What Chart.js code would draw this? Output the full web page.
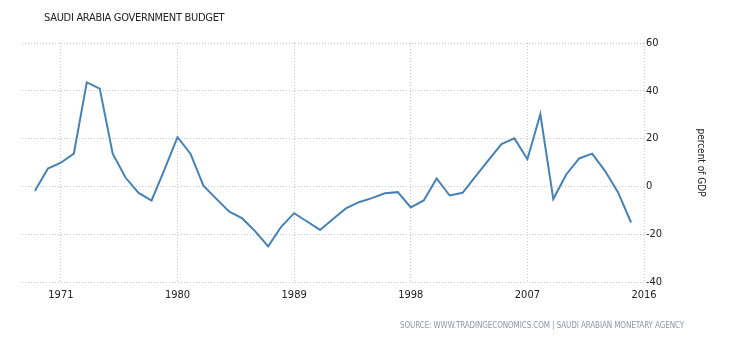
<!DOCTYPE html>
<html>
<head>
<meta charset="utf-8">
<script src="https://cdn.jsdelivr.net/npm/chart.js@4.4.0/dist/chart.umd.min.js"></script>
<style>
  body { margin: 0; background: #fff; }
  #wrap { position: relative; width: 730px; height: 340px; }
  #title {
    position: absolute; left: 44px; top: 11px;
    font: 11px 'DejaVu Sans Condensed', 'DejaVu Sans', sans-serif;
    color: #222; letter-spacing: -0.3px; white-space: nowrap;
  }
  #source {
    position: absolute; left: 400px; top: 321px;
    font: 8px 'DejaVu Sans Condensed', 'DejaVu Sans', sans-serif;
    color: #8a97ab; letter-spacing: -0.1px; white-space: nowrap;
  }
</style>
</head>
<body>
<div id="wrap">
  <canvas id="canvas" width="730" height="340"></canvas>
  <div id="title">SAUDI ARABIA GOVERNMENT BUDGET</div>
  <div id="source">SOURCE: WWW.TRADINGECONOMICS.COM | SAUDI ARABIAN MONETARY AGENCY</div>
</div>
<script>
// budget balance, percent of GDP
const years = [1969, 1970, 1971, 1972, 1973, 1974, 1975, 1976, 1977, 1978,
  1979, 1980, 1981, 1982, 1983, 1984, 1985, 1986, 1987, 1988,
  1989, 1990, 1991, 1992, 1993, 1994, 1995, 1996, 1997, 1998,
  1999, 2000, 2001, 2002, 2003, 2004, 2005, 2006, 2007, 2008,
  2009, 2010, 2011, 2012, 2013, 2014, 2015];
const budget = [-1.8, 7.5, 9.9, 13.7, 43.5, 40.9, 13.7, 3.6, -2.7, -5.9,
  7.1, 20.6, 13.7, 0.3, -5.2, -10.6, -13.4, -18.8, -25.1, -16.9,
  -11.2, -14.7, -18.2, -13.6, -9.2, -6.6, -4.9, -2.9, -2.4, -8.8,
  -5.9, 3.3, -3.8, -2.7, 4.2, 11.0, 17.7, 20.1, 11.4, 30.2,
  -5.3, 5.0, 11.7, 13.7, 6.4, -2.5, -15.1];
const xTicks = [1971, 1980, 1989, 1998, 2007, 2016];
const yTicks = [-40, -20, 0, 20, 40, 60];

const tickFont = { family: "'DejaVu Sans Condensed', 'DejaVu Sans', sans-serif", size: 11 };
const gridColor = '#c8c8c8';

new Chart(document.getElementById('canvas').getContext('2d'), {
  type: 'line',
  data: {
    datasets: [{
      data: years.map((yr, i) => ({ x: yr, y: budget[i] })),
      borderColor: '#4682b4',
      borderWidth: 2,
      pointRadius: 0,
      tension: 0,
      fill: false
    }]
  },
  options: {
    responsive: false,
    animation: false,
    layout: { padding: { left: 22, right: 23, top: 43, bottom: 34 } },
    plugins: { legend: { display: false }, tooltip: { enabled: false } },
    scales: {
      x: {
        type: 'linear',
        min: 1968,
        max: 2016,
        afterBuildTicks: (scale) => { scale.ticks = xTicks.map(v => ({ value: v })); },
        afterFit: (scale) => { scale.height = 24; },
        grid: { color: gridColor, drawTicks: false },
        border: { display: false, dash: [1, 2] },
        ticks: { font: tickFont, color: '#222', padding: 7, maxRotation: 0, callback: v => String(v) }
      },
      y: {
        position: 'right',
        min: -40,
        max: 60,
        afterBuildTicks: (scale) => { scale.ticks = yTicks.map(v => ({ value: v })); },
        afterFit: (scale) => { scale.width = 63; },
        grid: { color: gridColor, drawTicks: false },
        border: { display: false, dash: [1, 2] },
        ticks: { font: tickFont, color: '#222', padding: 2 },
        title: {
          display: true,
          text: 'percent of GDP',
          color: '#222',
          padding: 0,
          font: { family: "'DejaVu Sans Condensed', 'DejaVu Sans', sans-serif", size: 10 }
        }
      }
    }
  }
});
</script>
</body>
</html>
